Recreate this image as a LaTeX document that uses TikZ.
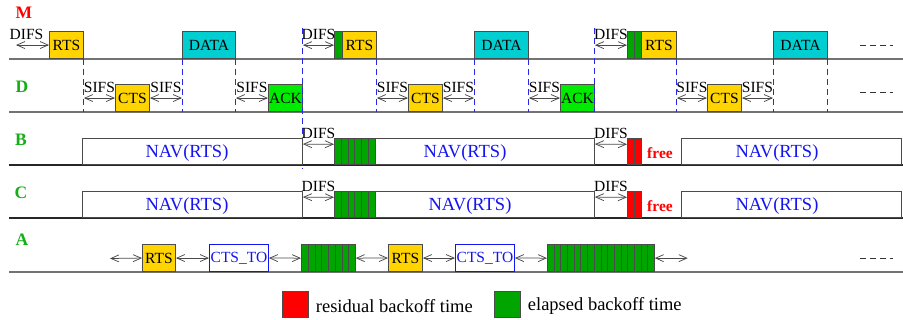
\documentclass[tikz,border=0pt]{standalone}
\usepackage{fontspec}
\setmainfont{Liberation Serif}
\usetikzlibrary{arrows.meta,calc}

\definecolor{rtsyellow}{RGB}{255,212,0}
\definecolor{datacyan}{RGB}{0,206,209}
\definecolor{ackgreen}{RGB}{0,235,0}
\definecolor{slotgreen}{RGB}{0,165,0}
\definecolor{slotred}{RGB}{255,0,0}
\definecolor{navblue}{RGB}{20,20,240}
\definecolor{rowgreen}{RGB}{20,175,20}
\definecolor{edgegray}{RGB}{75,75,75}
\definecolor{linegray}{RGB}{115,115,115}
\definecolor{markblue}{RGB}{40,40,235}

\begin{document}
\begin{tikzpicture}[x=1pt,y=-1pt,
  lbl/.style={font=\fontsize{15.5}{17}\selectfont, inner sep=0pt},
  biglbl/.style={font=\fontsize{18.5}{20}\selectfont, inner sep=0pt},
  rowname/.style={font=\fontsize{17.5}{19}\selectfont\bfseries, inner sep=0pt},
  pkt/.style={draw=edgegray, line width=0.9pt, minimum height=27pt, inner sep=0pt, anchor=south west, lbl},
  navbox/.style={draw=edgegray, line width=0.9pt, minimum height=26pt, inner sep=0pt, anchor=south west},
  navtxt/.style={biglbl, text=navblue},
  slotbox/.style={draw=edgegray, line width=0.7pt, fill=slotgreen, inner sep=0pt, anchor=south west},
  redslot/.style={slotbox, fill=slotred},
  timeline/.style={draw=linegray, line width=1.3pt},
  darkline/.style={draw=black!85, line width=1.3pt},
  ifs/.style={draw=edgegray, line width=0.75pt, {Straight Barb[length=8pt,width=7pt]}-{Straight Barb[length=8pt,width=7pt]}},
  ifslbl/.style={lbl, midway, anchor=base, yshift=5.5pt},
  vmark/.style={draw=markblue, line width=0.9pt, dash pattern=on 6pt off 4pt},
  etcdash/.style={draw=black!80, line width=0.7pt, dash pattern=on 6pt off 4pt},
]
\useasboundingbox (0,0) rectangle (903,320);

% time axes
\draw[timeline] (9,59) -- (903,59);
\draw[timeline] (9,112) -- (903,112);
\draw[darkline] (9,165) -- (903,165);
\draw[darkline] (9,218) -- (903,218);
\draw[timeline] (9,272) -- (903,272);

% station names
\node[rowname, text=red] (nm) at (24,13) {M};
\node[rowname, text=rowgreen] (nd) at (22,87) {D};
\node[rowname, text=rowgreen] (nb) at (21,140) {B};
\node[rowname, text=rowgreen] (nc) at (21,193) {C};
\node[rowname, text=rowgreen] (na) at (22,240) {A};

% ---------- station M ----------
\node[pkt, fill=rtsyellow, minimum width=34pt] (m1rts) at (49,59) {RTS};
\node[pkt, fill=datacyan, minimum width=53pt] (m1data) at (182,59) {DATA};
\node[slotbox, minimum width=8pt, minimum height=27pt] (m2bo) at (334,59) {};
\node[pkt, fill=rtsyellow, minimum width=34pt] (m2rts) at (342,59) {RTS};
\node[pkt, fill=datacyan, minimum width=54pt] (m2data) at (474,59) {DATA};
\node[slotbox, minimum width=7pt, minimum height=27pt] (m3bo1) at (627,59) {};
\node[slotbox, minimum width=7pt, minimum height=27pt] (m3bo2) at (634,59) {};
\node[pkt, fill=rtsyellow, minimum width=35pt] (m3rts) at (641,59) {RTS};
\node[pkt, fill=datacyan, minimum width=54pt] (m3data) at (773,59) {DATA};

% ---------- station D ----------
\node[pkt, fill=rtsyellow, minimum width=34pt] (d1cts) at (115,112) {CTS};
\node[pkt, fill=ackgreen, minimum width=34pt] (d1ack) at (268,112) {ACK};
\node[pkt, fill=rtsyellow, minimum width=34pt] (d2cts) at (408,112) {CTS};
\node[pkt, fill=ackgreen, minimum width=34pt] (d2ack) at (560,112) {ACK};
\node[pkt, fill=rtsyellow, minimum width=34pt] (d3cts) at (707,112) {CTS};

% DIFS before each RTS of M
\coordinate (m1start) at ($(m1rts.west)+(-33,0)$);
\draw[ifs] (m1start) -- (m1rts.west) node[ifslbl, xshift=-6pt] {DIFS};
\draw[ifs] (d1ack.east |- m2bo.west) -- (m2bo.west) node[ifslbl] {DIFS};
\draw[ifs] (d2ack.east |- m3bo1.west) -- (m3bo1.west) node[ifslbl] {DIFS};

% SIFS gaps at D
\draw[ifs] (m1rts.east |- d1cts.west) -- (d1cts.west) node[ifslbl] {SIFS};
\draw[ifs] (d1cts.east) -- (m1data.west |- d1cts.east) node[ifslbl] {SIFS};
\draw[ifs] (m1data.east |- d1ack.west) -- (d1ack.west) node[ifslbl] {SIFS};
\draw[ifs] (m2rts.east |- d2cts.west) -- (d2cts.west) node[ifslbl] {SIFS};
\draw[ifs] (d2cts.east) -- (m2data.west |- d2cts.east) node[ifslbl] {SIFS};
\draw[ifs] (m2data.east |- d2ack.west) -- (d2ack.west) node[ifslbl] {SIFS};
\draw[ifs] (m3rts.east |- d3cts.west) -- (d3cts.west) node[ifslbl] {SIFS};
\draw[ifs] (d3cts.east) -- (m3data.west |- d3cts.east) node[ifslbl] {SIFS};

% frame boundaries
\foreach \f in {m1rts.south east, m1data.south west, m1data.south east,
                m2rts.south east, m2data.south west, m2data.south east,
                m3rts.south east, m3data.south west, m3data.south east}
  \draw[vmark] (\f) -- (\f |- d1cts.south);
\draw[vmark] ($(d1ack.south east)+(0,-84)$) -- ($(d1ack.south east)+(0,57)$);
\draw[vmark] ($(d2ack.south east)+(0,-84)$) -- (d2ack.south east);

% ---------- stations B and C ----------
\foreach \s/\y in {b/165, c/218}{
  \node[navbox, minimum width=220pt] (\s1) at (82,\y) {};
  \node[navbox, minimum width=260pt] (\s2) at (334,\y) {};
  \node[navbox, minimum width=220pt] (\s3) at (681,\y) {};
  \foreach \i in {0,...,5}
    \node[slotbox, minimum width=6.83pt, minimum height=26pt] (\s bo\i) at (334+\i*6.83,\y) {};
  \node[redslot, minimum width=7pt, minimum height=26pt] (\s r1) at (627,\y) {};
  \node[redslot, minimum width=7pt, minimum height=26pt] (\s r2) at (634,\y) {};
  \node[lbl, font=\fontsize{15.5}{17}\selectfont\bfseries, text=red] (\s free) at (660,\y-12) {free};
  \draw[ifs] ($(\s1.north east)+(0,6)$) -- ($(\s bo0.north west)+(0,6)$) node[ifslbl] {DIFS};
  \draw[ifs] ($(\s2.north east)+(0,6)$) -- ($(\s r1.north west)+(0,6)$) node[ifslbl] {DIFS};
  \node[navtxt] (\s t1) at (187,\y-12) {NAV(RTS)};
  \node[navtxt] (\s t3) at (777,\y-12) {NAV(RTS)};
}
\node[navtxt] (bt2) at (465,153) {NAV(RTS)};
\node[navtxt] (ct2) at (470,206) {NAV(RTS)};

% ---------- station A ----------
\coordinate (astart) at (110,258.5);
\node[pkt, fill=rtsyellow, minimum width=33pt] (a1rts) at (142,272) {RTS};
\node[pkt, draw=navblue, fill=white, text=navblue, minimum width=59pt] (a1to) at (209,272) {CTS\_TO};
\foreach \i in {0,...,7}
  \node[slotbox, minimum width=6.75pt, minimum height=27pt] (ap\i) at (301+\i*6.75,272) {};
\node[pkt, fill=rtsyellow, minimum width=34pt] (a2rts) at (388,272) {RTS};
\node[pkt, draw=navblue, fill=white, text=navblue, minimum width=59pt] (a2to) at (455,272) {CTS\_TO};
\foreach \i in {0,...,15}
  \node[slotbox, minimum width=6.69pt, minimum height=27pt] (aq\i) at (547+\i*6.69,272) {};
\coordinate (aend) at ($(aq15.east)+(33,0)$);
\draw[ifs] (astart) -- (a1rts.west);
\draw[ifs] (a1rts.east) -- (a1to.west);
\draw[ifs] (a1to.east) -- (ap0.west);
\draw[ifs] (ap7.east) -- (a2rts.west);
\draw[ifs] (a2rts.east) -- (a2to.west);
\draw[ifs] (a2to.east) -- (aq0.west);
\draw[ifs] (aq15.east) -- (aend);

% continuation marks
\draw[etcdash] (860,45) -- (893,45);
\draw[etcdash] (860,92) -- (893,92);
\draw[etcdash] (860,258) -- (893,258);

% legend
\node[slotbox, fill=slotred, minimum size=26pt] (legred) at (282,318) {};
\node[biglbl, anchor=west] (legredtxt) at ($(legred.east)+(7,1)$) {residual backoff time};
\node[slotbox, minimum size=26pt] (leggreen) at (494,318) {};
\node[biglbl, anchor=west] (leggreentxt) at ($(leggreen.east)+(7,1)$) {elapsed backoff time};
\end{tikzpicture}
\end{document}
